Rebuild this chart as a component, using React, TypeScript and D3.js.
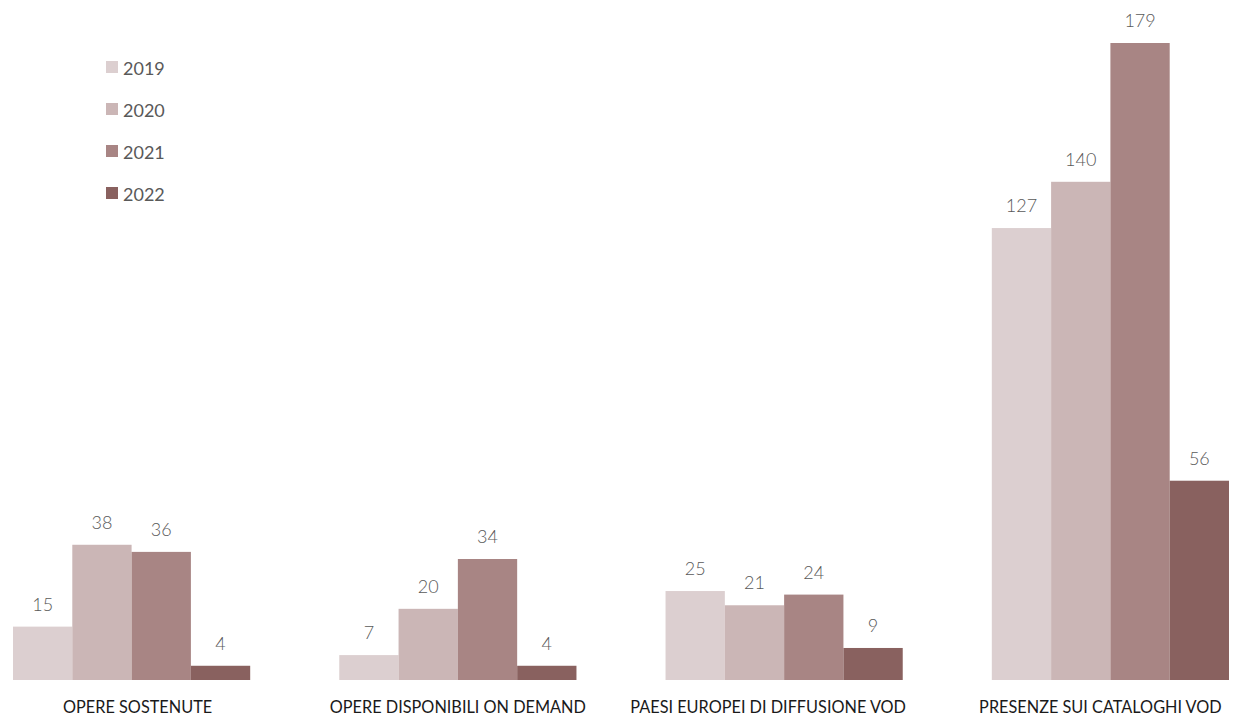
import React from "react";
import * as d3 from "d3";

const categories = [
  "OPERE SOSTENUTE",
  "OPERE DISPONIBILI ON DEMAND",
  "PAESI EUROPEI DI DIFFUSIONE VOD",
  "PRESENZE SUI CATALOGHI VOD",
];
const seriesNames = ["2019", "2020", "2021", "2022"];
const values2019 = [15, 7, 25, 127];
const values2020 = [38, 20, 21, 140];
const values2021 = [36, 34, 24, 179];
const values2022 = [4, 4, 9, 56];
const seriesValues = [values2019, values2020, values2021, values2022];
const colors = ["#DCCFD0", "#CBB6B6", "#A88584", "#89615F"];

const W = 1248;
const H = 717;
const FONT = "Lato, 'Open Sans', sans-serif";
// small horizontal nudges of category labels (layout only)
const labelNudge = [6, 0, -16, -10];

export default function App() {
  const x0 = d3.scaleBand<string>().domain(categories).range([13, 1229]).paddingInner(0.273).paddingOuter(0);
  const x1 = d3.scaleBand<string>().domain(seriesNames).range([0, x0.bandwidth()]).padding(0);
  const y = d3.scaleLinear().domain([0, 179]).range([680, 43]);

  return (
    <div style={{ position: "absolute", left: 0, top: 0 }}>
      <svg width={W} height={H} style={{ display: "block" }}>
        <rect width={W} height={H} fill="#fff" />
        {categories.map((c, ci) => (
          <g key={c} transform={`translate(${x0(c)},0)`}>
            {seriesNames.map((s, si) => {
              const v = seriesValues[si][ci];
              const bx = x1(s)!;
              return (
                <g key={s}>
                  <rect
                    x={bx}
                    y={y(v)}
                    width={x1.bandwidth()}
                    height={y(0) - y(v)}
                    fill={colors[si]}
                  />
                  <text
                    x={bx + x1.bandwidth() / 2}
                    y={y(v) - 16}
                    textAnchor="middle"
                    fontFamily={FONT}
                    fontSize={18}
                    fontWeight={300}
                    fill="#595959"
                  >
                    {v}
                  </text>
                </g>
              );
            })}
            <text
              x={x0.bandwidth() / 2 + labelNudge[ci]}
              y={713}
              textAnchor="middle"
              fontFamily={FONT}
              fontSize={16.3}
              fill="#1a1a1a"
            >
              {c}
            </text>
          </g>
        ))}
        {seriesNames.map((s, i) => (
          <g key={s} transform={`translate(106,${61 + i * 42})`}>
            <rect x={0} y={0} width={12} height={12} fill={colors[i]} />
            <text x={17} y={13.5} fontFamily={FONT} fontSize={18} fill="#595959">
              {s}
            </text>
          </g>
        ))}
      </svg>
    </div>
  );
}
